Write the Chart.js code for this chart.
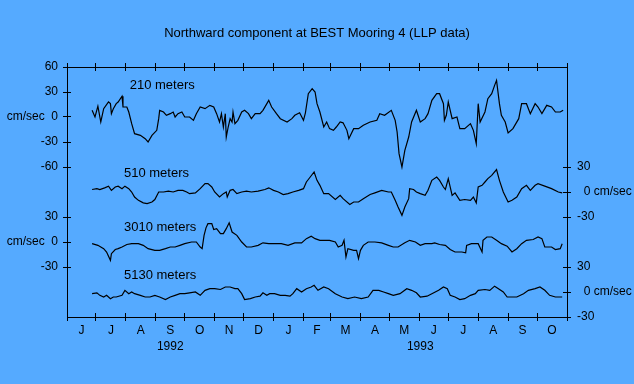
<!DOCTYPE html>
<html>
<head>
<meta charset="utf-8">
<title>Northward component at BEST Mooring 4</title>
<script src="https://cdn.jsdelivr.net/npm/chart.js@4.4.0/dist/chart.umd.min.js"></script>
<style>
	html, body { margin: 0; padding: 0; background: #55aaff; }
	canvas { display: block; }
</style>
</head>
<body>
<canvas id="graficoCorrentes" width="634" height="384"></canvas>
<script>
	// days are counted from 1 June 1992, speeds in cm/sec
	var dias210 = [26,29,32,35,38,43,45,46,48,51,53,57,58,62,64,67,70,76,81,84,88,93,95,96,100,103,107,110,112,115,119,122,127,131,134,138,143,148,152,155,158,160,162,164,165,167,169,171,172,174,177,181,184,188,191,195,200,203,209,212,217,221,228,233,236,241,245,247,250,254,257,259,262,266,269,272,276,279,283,286,290,292,297,302,307,314,321,324,329,336,340,342,344,347,350,354,357,362,366,371,374,378,383,386,390,391,393,395,399,404,407,412,418,421,424,426,428,433,436,440,443,445,448,450,454,457,462,468,471,476,480,485,488,492,497,502,506,511,514];
	var vel210 = [8,0,13,-6,10,18,16,4,10,16,18,25,12,12,6,-8,-20,-22,-26,-30,-22,-16,-2,8,6,2,4,6,0,4,6,0,0,-4,4,12,10,14,12,4,-6,4,-12,4,-24,-12,-2,-6,6,-8,-4,6,8,4,-2,4,4,8,20,12,4,-2,-6,-2,2,5,-4,5,28,34,30,16,6,-12,-6,-14,-16,-12,-6,-7,-16,-26,-14,-14,-10,-6,-4,4,2,8,-4,-18,-44,-60,-40,-24,-6,8,-6,-2,4,20,28,28,16,-4,2,18,-2,0,-14,-14,-8,-16,-32,16,-6,6,22,28,38,44,16,2,-6,-19,-14,-2,16,16,4,16,12,4,14,12,6,6,8];

	var dias510 = [26,31,34,39,43,46,50,53,57,60,64,67,70,74,79,83,88,91,95,100,105,110,115,120,124,127,133,138,143,146,150,153,158,162,165,166,169,172,176,181,186,191,198,205,209,214,219,224,229,234,240,245,248,252,256,259,262,266,271,278,283,286,293,297,302,307,314,319,326,333,336,340,343,347,350,354,355,359,362,366,371,374,378,383,386,390,392,395,399,402,407,412,418,421,424,426,430,433,436,440,445,448,452,457,461,466,471,476,480,485,488,495,502,509,513];
	var vel510 = [3,4,3,5,7,2,6,7,4,7,4,0,-6,-10,-13,-14,-12,-9,0,0,1,0,2,2,0,-2,-1,4,10,10,6,0,-6,-2,0,-6,2,3,-2,0,1,0,1,3,5,2,0,-3,-2,0,2,4,12,18,24,14,8,-2,-2,-9,-4,-8,-15,-12,-12,-8,-3,-1,2,0,0,-10,-18,-28,-18,-8,4,3,0,-2,-4,2,14,18,14,6,3,16,-4,-1,-10,-9,-10,-6,-13,6,8,12,16,20,27,14,0,-12,-10,-6,4,8,2,8,10,7,4,0,-1];

	var dias3010 = [26,32,38,41,45,46,50,53,57,62,67,74,79,84,91,96,102,107,112,117,122,129,134,138,140,142,144,146,150,152,155,159,162,165,168,171,176,181,186,191,198,203,209,215,222,229,236,243,248,253,257,262,267,272,278,281,285,287,289,291,297,300,302,304,307,312,319,326,333,338,343,350,355,361,366,371,378,381,386,392,397,402,409,413,414,419,426,430,431,435,440,445,450,456,461,466,471,476,483,488,492,495,502,506,511,513];
	var vel3010 = [-2,-4,-8,-12,-22,-14,-9,-8,-6,-3,-2,-2,-4,-8,-10,-10,-8,-6,-6,-4,-2,0,0,-6,-8,8,17,22,22,15,16,10,10,16,23,12,8,0,-6,-6,-4,-1,-2,-2,-2,-4,-1,-1,4,7,4,2,2,2,0,-6,-4,2,-18,-8,-10,-10,-20,-10,-4,0,0,-1,-4,-6,-6,-1,2,0,-4,-2,-2,-1,-3,-4,-9,-12,-12,-13,-4,-2,-2,-12,2,6,6,2,-2,-5,-12,-8,-2,2,3,6,4,-6,-6,-9,-8,-2];

	var dias5130 = [26,31,34,38,41,45,48,51,57,60,64,67,70,76,81,86,91,96,102,107,112,117,122,127,133,138,143,148,153,159,164,169,174,177,181,184,190,195,200,203,207,210,215,221,226,231,234,238,243,248,253,256,260,266,271,278,285,291,298,305,312,317,323,328,333,338,345,352,357,362,366,373,378,385,390,394,397,402,407,412,418,423,426,433,438,443,447,452,456,461,466,473,478,485,490,495,500,506,511,513];
	var vel5130 = [-2,-1,-4,-6,-4,-8,-6,-6,-4,2,-2,0,-2,-4,-6,-6,-4,-6,-9,-6,-4,-2,-2,-1,0,-4,2,4,4,3,6,6,4,4,-2,-9,-8,-6,-5,-1,-4,-2,-2,-4,-4,-5,-2,4,0,4,6,8,2,6,4,-2,-6,-8,-6,-8,-6,2,2,0,-2,-4,-2,4,2,-1,-6,-5,-2,2,6,4,-4,-6,-9,-8,-4,-2,2,3,2,7,4,0,-6,-6,-6,-2,2,4,6,2,-4,-6,-6,-6];

	var nomesSeries = ['210 meters', '510 meters', '3010 meters', '5130 meters'];

	// first day of each month, Jun 1992 .. Nov 1993
	var inicioMes = [0,30,61,92,122,153,183,214,245,273,304,334,365,395,426,457,487,518];
	var letrasMes = ['J','J','A','S','O','N','D','J','F','M','A','M','J','J','A','S','O'];
	var anos = ['1992', '1993'];
	var diaAno = [107, 366];

	// left axis: top trace and the 3010 m trace
	var ticksEsquerda = [60, 30, 0, -30, -60, -120, -150, -180];
	var rotulosEsquerda = ['60', '30', 'cm/sec  0', '-30', '-60', '30', 'cm/sec  0', '-30'];
	// right axis: 510 m and 5130 m traces
	var ticksDireita = [-60, -90, -120, -180, -210, -240];
	var rotulosDireita = ['30', '  0 cm/sec', '-30', '30', '  0 cm/sec', '-30'];

	// each trace is shifted down so they stack
	var deslocamento = [0, -90, -150, -210];
	var rotuloDia = [65, 59, 59, 59];
	var rotuloVel = [38, 22, 18, 20];

	var _fonte = '"Liberation Sans", Arial, sans-serif';
	var _alturaTitulo = 13 * 1.2 + 26;

	var montarSerie = function(dias, vel, desl) {
		return dias.map(function(d, i) {
			return { x: d, y: vel[i] + desl };
		});
	};

	var _series = [
		montarSerie(dias210, vel210, deslocamento[0]),
		montarSerie(dias510, vel510, deslocamento[1]),
		montarSerie(dias3010, vel3010, deslocamento[2]),
		montarSerie(dias5130, vel5130, deslocamento[3])
	];

	var meioMes = letrasMes.map(function(l, i) {
		return (inicioMes[i] + inicioMes[i + 1]) / 2;
	});

	var pluginRotulos = {
		id: 'rotulosSeries',
		afterDatasetsDraw: function(chart) {
			var ctx = chart.ctx;
			var sx = chart.scales.x;
			var sy = chart.scales.y;
			ctx.save();
			ctx.font = '13px ' + _fonte;
			ctx.fillStyle = '#000';
			ctx.textBaseline = 'middle';
			ctx.textAlign = 'left';
			nomesSeries.forEach(function(nome, i) {
				ctx.fillText(nome, sx.getPixelForValue(rotuloDia[i]), sy.getPixelForValue(rotuloVel[i] + deslocamento[i]));
			});
			ctx.restore();
		}
	};

	// the original ticks cross the frame, chart.js only draws the outer half
	var pluginTracos = {
		id: 'tracosInternos',
		afterDraw: function(chart) {
			var ctx = chart.ctx;
			var a = chart.chartArea;
			ctx.save();
			ctx.strokeStyle = '#000';
			ctx.lineWidth = 1;
			ctx.beginPath();
			chart.scales.x.ticks.forEach(function(t) {
				var p = Math.floor(chart.scales.x.getPixelForValue(t.value)) + 0.5;
				ctx.moveTo(p, a.bottom);
				ctx.lineTo(p, a.bottom - 4);
				ctx.moveTo(p, a.top);
				ctx.lineTo(p, a.top + 4);
			});
			chart.scales.y.ticks.forEach(function(t) {
				var p = Math.floor(chart.scales.y.getPixelForValue(t.value)) + 0.5;
				ctx.moveTo(a.left, p);
				ctx.lineTo(a.left + 4, p);
			});
			chart.scales.y2.ticks.forEach(function(t) {
				var p = Math.floor(chart.scales.y2.getPixelForValue(t.value)) + 0.5;
				ctx.moveTo(a.right, p);
				ctx.lineTo(a.right - 4, p);
			});
			ctx.stroke();
			ctx.restore();
		}
	};

	var eixoMeses = function(posicao, altura) {
		return {
			type: 'linear',
			position: posicao,
			min: 0,
			max: 518,
			weight: 0,
			afterBuildTicks: function(s) {
				s.ticks = inicioMes.map(function(v) { return { value: v }; });
			},
			afterFit: function(s) { s.height = altura; },
			ticks: { display: false },
			grid: { drawOnChartArea: false, tickLength: 4, tickColor: '#000' },
			border: { color: '#000', width: 1 }
		};
	};

	var eixoTexto = function(valores, textos, peso) {
		return {
			type: 'linear',
			position: 'bottom',
			min: 0,
			max: 518,
			weight: peso,
			afterBuildTicks: function(s) {
				s.ticks = valores.map(function(v) { return { value: v }; });
			},
			afterFit: function(s) { s.height = 16.4; },
			ticks: {
				autoSkip: false,
				maxRotation: 0,
				padding: 2,
				color: '#000',
				font: { family: _fonte, size: 12 },
				callback: function(v, i) { return textos[i]; }
			},
			grid: { display: false, drawTicks: false },
			border: { display: false }
		};
	};

	var eixoVertical = function(posicao, valores, textos, padding) {
		return {
			type: 'linear',
			position: posicao,
			min: -240,
			max: 60,
			afterBuildTicks: function(s) {
				s.ticks = valores.map(function(v) { return { value: v }; });
			},
			afterFit: function(s) { s.width = 67; },
			ticks: {
				autoSkip: false,
				padding: padding,
				color: '#000',
				font: { family: _fonte, size: 12 },
				callback: function(v, i) { return textos[i]; }
			},
			grid: { drawOnChartArea: false, tickLength: 4, tickColor: '#000' },
			border: { color: '#000', width: 1 }
		};
	};

	new Chart(document.getElementById('graficoCorrentes').getContext('2d'), {
		type: 'line',
		data: {
			datasets: _series.map(function(s, i) {
				return {
					label: nomesSeries[i],
					data: s,
					borderColor: '#000',
					borderWidth: 1.2,
					pointRadius: 0,
					tension: 0,
					fill: false
				};
			})
		},
		options: {
			responsive: false,
			animation: false,
			events: [],
			layout: { padding: { left: 0, right: 0, top: 0, bottom: 30.2 } },
			scales: {
				x: eixoMeses('bottom', 4),
				xt: eixoMeses('top', 67 - _alturaTitulo),
				xm: eixoTexto(meioMes, letrasMes, 1),
				xa: eixoTexto(diaAno, anos, 2),
				y: eixoVertical('left', ticksEsquerda, rotulosEsquerda, 5),
				y2: eixoVertical('right', ticksDireita, rotulosDireita, 6)
			},
			plugins: {
				legend: { display: false },
				tooltip: { enabled: false },
				title: {
					display: true,
					text: 'Northward component at BEST Mooring 4 (LLP data)',
					color: '#000',
					font: { family: _fonte, size: 13, weight: 'normal' },
					padding: { top: 26, bottom: 0 }
				}
			}
		},
		plugins: [pluginRotulos, pluginTracos]
	});
</script>
</body>
</html>
